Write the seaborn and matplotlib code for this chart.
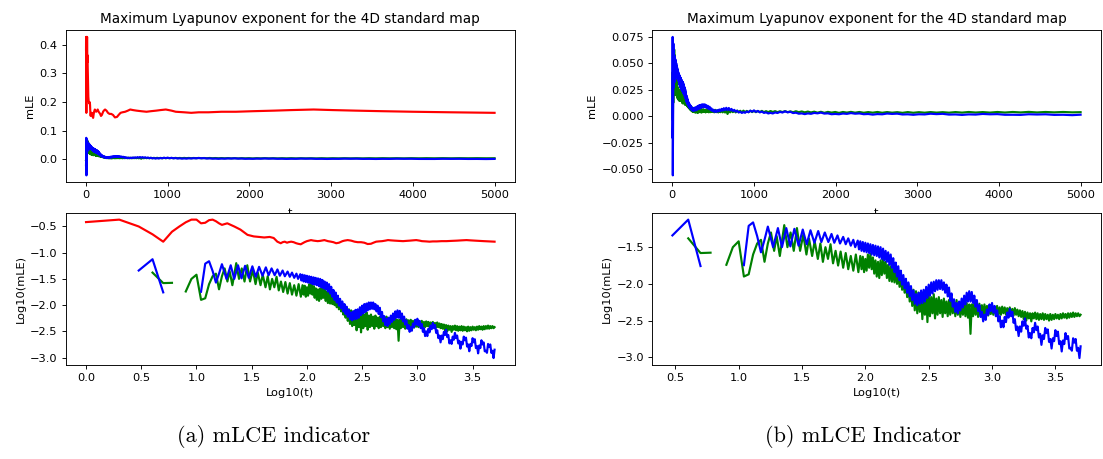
import numpy as np
import matplotlib
matplotlib.use("Agg")
import matplotlib.pyplot as plt
import seaborn as sns

# ---------------- data ----------------
# first integer steps, linear mLE (non-positive values give gaps on the log panel)
early_t = [1, 2, 3, 4, 5, 6, 7, 8, 9, 10, 11, 12, 13, 14, 15, 16, 17]
red_early = [0.383, 0.427, 0.316, 0.224, 0.162, 0.251, 0.316, 0.380, 0.427, 0.427,
             0.363, 0.372, 0.417, 0.427, 0.398, 0.363, 0.339]
green_early = [-0.003, -0.002, -0.001, 0.0417, 0.0263, 0.0266, -0.002, 0.0182, 0.0316, 0.038,
               0.0126, 0.0135, 0.0251, 0.0355, 0.0398, 0.020, 0.0355]
blue_early = [-0.02, -0.008, 0.0457, 0.075, 0.0175, -0.056, -0.035, -0.02, -0.012, -0.005,
              0.018, 0.0617, 0.0687, 0.0447, 0.0269, 0.0398, 0.0603]

# later steps, read on the log-log panel (log10 t, log10 mLE)
red_logt = [1.279, 1.342, 1.398, 1.462, 1.519, 1.568, 1.613, 1.663, 1.699, 1.732,
            1.763, 1.78, 1.799, 1.82, 1.833, 1.857, 1.88, 1.903, 1.92, 1.944,
            1.978, 2.0, 2.037, 2.06, 2.097, 2.12, 2.158, 2.19, 2.217, 2.24,
            2.265, 2.29, 2.322, 2.34, 2.369, 2.40, 2.431, 2.46, 2.49, 2.52,
            2.55, 2.58, 2.602, 2.627, 2.65, 2.681, 2.71, 2.734, 2.76, 2.792,
            2.83, 2.87, 2.90, 2.934, 2.96, 2.99, 3.02, 3.041, 3.08, 3.11,
            3.14, 3.176, 3.22, 3.264, 3.31, 3.362, 3.40, 3.445, 3.48, 3.519,
            3.56, 3.602, 3.65, 3.699]
red_logmle = [-0.44, -0.50, -0.56, -0.66, -0.69, -0.70, -0.71, -0.70, -0.72, -0.79,
              -0.82, -0.80, -0.79, -0.81, -0.80, -0.79, -0.80, -0.82, -0.83, -0.84,
              -0.80, -0.78, -0.76, -0.77, -0.78, -0.775, -0.76, -0.78, -0.79, -0.80,
              -0.82, -0.81, -0.78, -0.77, -0.76, -0.77, -0.79, -0.80, -0.80, -0.81,
              -0.835, -0.83, -0.81, -0.79, -0.785, -0.78, -0.77, -0.76, -0.765, -0.77,
              -0.775, -0.78, -0.775, -0.77, -0.765, -0.76, -0.77, -0.78, -0.785, -0.79,
              -0.785, -0.785, -0.78, -0.78, -0.775, -0.77, -0.765, -0.76, -0.765, -0.77,
              -0.775, -0.78, -0.785, -0.79]

green_logt = [1.255, 1.28, 1.30, 1.325, 1.36, 1.385, 1.41, 1.435, 1.46, 1.485,
              1.51, 1.535, 1.555, 1.58, 1.60, 1.625, 1.645, 1.665, 1.685, 1.705,
              1.725, 1.745, 1.765, 1.785, 1.805, 1.825, 1.845, 1.865, 1.885, 1.905,
              1.925, 1.945]
green_logmle = [-1.30, -1.55, -1.35, -1.62, -1.20, -1.50, -1.30, -1.55, -1.24, -1.55,
                -1.33, -1.60, -1.38, -1.62, -1.42, -1.66, -1.45, -1.70, -1.50, -1.66,
                -1.46, -1.72, -1.55, -1.75, -1.56, -1.78, -1.58, -1.80, -1.62, -1.82,
                -1.60, -1.84]

blue_logt = [1.272, 1.31, 1.342, 1.376, 1.408, 1.44, 1.473, 1.506, 1.537, 1.567,
             1.598, 1.628, 1.653, 1.68, 1.708, 1.733, 1.755, 1.78, 1.80, 1.825,
             1.845, 1.865, 1.885, 1.905, 1.92, 1.94, 1.95]
blue_logmle = [-1.50, -1.24, -1.50, -1.24, -1.49, -1.25, -1.48, -1.26, -1.46, -1.27,
               -1.44, -1.28, -1.43, -1.30, -1.43, -1.32, -1.44, -1.34, -1.45, -1.36,
               -1.46, -1.38, -1.48, -1.40, -1.50, -1.41, -1.53]

# densely oscillating part (log10 t grid shared by green and blue)
dense_logt = [1.96, 1.97, 1.98, 1.99, 2.00, 2.01, 2.02, 2.03, 2.04, 2.05,
              2.06, 2.07, 2.08, 2.09, 2.10, 2.11, 2.12, 2.13, 2.14, 2.15,
              2.16, 2.17, 2.18, 2.19, 2.20, 2.21, 2.22, 2.23, 2.24, 2.25,
              2.26, 2.27, 2.28, 2.29, 2.30, 2.31, 2.32, 2.33, 2.34, 2.35,
              2.36, 2.37, 2.38, 2.39, 2.40, 2.41, 2.42, 2.43, 2.44, 2.45,
              2.46, 2.47, 2.48, 2.49, 2.50, 2.51, 2.52, 2.53, 2.54, 2.55,
              2.56, 2.57, 2.58, 2.59, 2.60, 2.61, 2.62, 2.63, 2.64, 2.65,
              2.66, 2.67, 2.68, 2.69, 2.70, 2.71, 2.72, 2.73, 2.74, 2.75,
              2.76, 2.77, 2.78, 2.79, 2.80, 2.81, 2.82, 2.83, 2.84, 2.85,
              2.86, 2.87, 2.88, 2.89, 2.90, 2.91, 2.92, 2.93, 2.94, 2.95,
              2.96, 2.97, 2.98, 2.99, 3.00, 3.01, 3.02, 3.03, 3.04, 3.05,
              3.06, 3.07, 3.08, 3.09, 3.10, 3.11, 3.12, 3.13, 3.14, 3.15,
              3.16, 3.17, 3.18, 3.19, 3.20, 3.21, 3.22, 3.23, 3.24, 3.25,
              3.26, 3.27, 3.28, 3.29, 3.30, 3.31, 3.32, 3.33, 3.34, 3.35,
              3.36, 3.37, 3.38, 3.39, 3.40, 3.41, 3.42, 3.43, 3.44, 3.45,
              3.46, 3.47, 3.48, 3.49, 3.50, 3.51, 3.52, 3.53, 3.54, 3.55,
              3.56, 3.57, 3.58, 3.59, 3.60, 3.61, 3.62, 3.63, 3.64, 3.65,
              3.66, 3.67, 3.68, 3.69, 3.699]
blue_dense = [-1.42, -1.55, -1.43, -1.56, -1.44, -1.57, -1.45, -1.58, -1.46, -1.60,
              -1.47, -1.61, -1.48, -1.62, -1.49, -1.64, -1.50, -1.66, -1.52, -1.68,
              -1.55, -1.70, -1.57, -1.74, -1.60, -1.78, -1.65, -1.84, -1.71, -1.90,
              -1.76, -1.95, -1.82, -2.01, -1.88, -2.06, -1.93, -2.12, -1.98, -2.17,
              -2.03, -2.22, -2.09, -2.27, -2.14, -2.29, -2.12, -2.27, -2.09, -2.26,
              -2.08, -2.24, -2.04, -2.19, -2.01, -2.16, -1.98, -2.13, -1.97, -2.10,
              -1.95, -2.08, -1.95, -2.07, -1.95, -2.08, -1.98, -2.12, -2.01, -2.17,
              -2.05, -2.23, -2.13, -2.31, -2.21, -2.38, -2.26, -2.40, -2.24, -2.36,
              -2.20, -2.32, -2.16, -2.28, -2.12, -2.24, -2.10, -2.24, -2.11, -2.26,
              -2.16, -2.31, -2.22, -2.37, -2.29, -2.45, -2.38, -2.51, -2.42, -2.49,
              -2.35, -2.42, -2.28, -2.37, -2.26, -2.39, -2.30, -2.44, -2.36, -2.51,
              -2.44, -2.59, -2.50, -2.59, -2.45, -2.52, -2.39, -2.46, -2.34, -2.44,
              -2.38, -2.53, -2.48, -2.63, -2.58, -2.71, -2.58, -2.65, -2.51, -2.57,
              -2.47, -2.61, -2.57, -2.73, -2.67, -2.74, -2.60, -2.66, -2.53, -2.63,
              -2.58, -2.73, -2.68, -2.83, -2.70, -2.75, -2.60, -2.67, -2.62, -2.79,
              -2.75, -2.88, -2.74, -2.78, -2.63, -2.71, -2.65, -2.82, -2.78, -2.92,
              -2.77, -2.82, -2.67, -2.75, -2.71, -2.88, -2.87, -2.91, -2.74, -2.80,
              -2.75, -2.91, -2.87, -3.01, -2.85]
green_dense = [-1.62, -1.80, -1.63, -1.84, -1.66, -1.82, -1.60, -1.78, -1.59, -1.80,
               -1.64, -1.86, -1.68, -1.90, -1.70, -1.92, -1.68, -1.88, -1.66, -1.86,
               -1.70, -1.92, -1.74, -1.96, -1.76, -1.97, -1.78, -1.98, -1.80, -2.00,
               -1.86, -2.04, -1.90, -2.08, -1.95, -2.12, -1.98, -2.18, -2.00, -2.24,
               -2.05, -2.30, -2.08, -2.36, -2.10, -2.40, -2.12, -2.38, -2.14, -2.48,
               -2.16, -2.42, -2.12, -2.52, -2.15, -2.44, -2.18, -2.40, -2.14, -2.47,
               -2.20, -2.42, -2.18, -2.40, -2.22, -2.45, -2.20, -2.40, -2.24, -2.44,
               -2.22, -2.42, -2.20, -2.40, -2.24, -2.44, -2.22, -2.42, -2.26, -2.45,
               -2.25, -2.42, -2.27, -2.44, -2.26, -2.46, -2.28, -2.68, -2.28, -2.44,
               -2.26, -2.42, -2.28, -2.45, -2.27, -2.43, -2.29, -2.44, -2.28, -2.42,
               -2.30, -2.43, -2.29, -2.41, -2.30, -2.42, -2.31, -2.41, -2.30, -2.42,
               -2.32, -2.42, -2.31, -2.40, -2.32, -2.42, -2.33, -2.41, -2.32, -2.42,
               -2.34, -2.43, -2.33, -2.42, -2.35, -2.44, -2.36, -2.45, -2.37, -2.48,
               -2.38, -2.50, -2.39, -2.47, -2.40, -2.51, -2.40, -2.47, -2.39, -2.48,
               -2.40, -2.49, -2.41, -2.48, -2.40, -2.49, -2.41, -2.48, -2.42, -2.50,
               -2.41, -2.49, -2.42, -2.48, -2.41, -2.47, -2.42, -2.48, -2.41, -2.47,
               -2.40, -2.46, -2.41, -2.47, -2.40, -2.46, -2.40, -2.45, -2.39, -2.45,
               -2.40, -2.44, -2.40, -2.44, -2.42]

title = "Maximum Lyapunov exponent for the 4D standard map"
captions = ["(a) mLCE indicator", "(b) mLCE Indicator"]

# ---------------- style ----------------
S = 0.82
plt.rcParams.update({
    "font.family": "DejaVu Sans",
    "font.size": 10 * S,
    "axes.titlesize": 12 * S,
    "axes.labelsize": 10 * S,
    "xtick.labelsize": 10 * S,
    "ytick.labelsize": 10 * S,
    "axes.linewidth": 0.8 * S,
    "xtick.major.width": 0.8 * S,
    "ytick.major.width": 0.8 * S,
    "xtick.major.size": 3.5 * S,
    "ytick.major.size": 3.5 * S,
    "xtick.major.pad": 3.5 * S,
    "ytick.major.pad": 3.5 * S,
    "axes.labelpad": 4 * S,
    "axes.titlepad": 6 * S,
})
LW = 1.55


def build(early, logt, logmle):
    e = np.array(early, float)
    lt_late = np.array(logt, float)
    lm_late = np.array(logmle, float)
    t_lin = np.concatenate([np.array(early_t, float), 10 ** lt_late])
    m_lin = np.concatenate([e, 10 ** lm_late])
    lt = np.log10(t_lin)
    with np.errstate(divide="ignore", invalid="ignore"):
        lm_early = np.where(e > 0, np.log10(np.abs(e)), np.nan)
    lm = np.concatenate([lm_early, lm_late])
    return t_lin, m_lin, lt, lm


series = {
    "red": build(red_early, red_logt, red_logmle),
    "green": build(green_early, green_logt + dense_logt, green_logmle + green_dense),
    "blue": build(blue_early, blue_logt + dense_logt, blue_logmle + blue_dense),
}


def draw(ax, x, y, color):
    idx = np.flatnonzero(np.isfinite(y))
    breaks = np.where(np.diff(idx) > 1)[0] + 1
    for run in np.split(idx, breaks):
        if len(run) > 1:
            sns.lineplot(x=x[run], y=y[run], ax=ax, color=color, linewidth=LW,
                         estimator=None, sort=False, legend=False)


W, H = 1103, 459
fig = plt.figure(figsize=(W / 100, H / 100), dpi=100)


def add_ax(x0, x1, y0, y1):
    return fig.add_axes([x0 / W, 1 - y1 / H, (x1 - x0) / W, (y1 - y0) / H])


panels = [
    (65.6, 515, ["red", "green", "blue"], 274),
    (652, 1101, ["green", "blue"], 863),
]
for (x0, x1, names, cx), cap in zip(panels, captions):
    top = add_ax(x0, x1, 30, 182.3)
    for n in names:
        t_lin, m_lin, lt, lm = series[n]
        draw(top, t_lin, m_lin, n)
    top.set_title(title)
    top.set_xlabel("t", labelpad=4 * S + 2.5)
    top.set_ylabel("mLE")

    bot = add_ax(x0, x1, 212.7, 365)
    for n in names:
        t_lin, m_lin, lt, lm = series[n]
        draw(bot, lt, lm, n)
    bot.set_xlabel("Log10(t)")
    bot.set_ylabel("Log10(mLE)")

    fig.text(cx / W, 1 - 437 / H, cap, ha="center", va="center",
             family="cmr10", fontsize=16)

fig.savefig("out.png", dpi=100)
